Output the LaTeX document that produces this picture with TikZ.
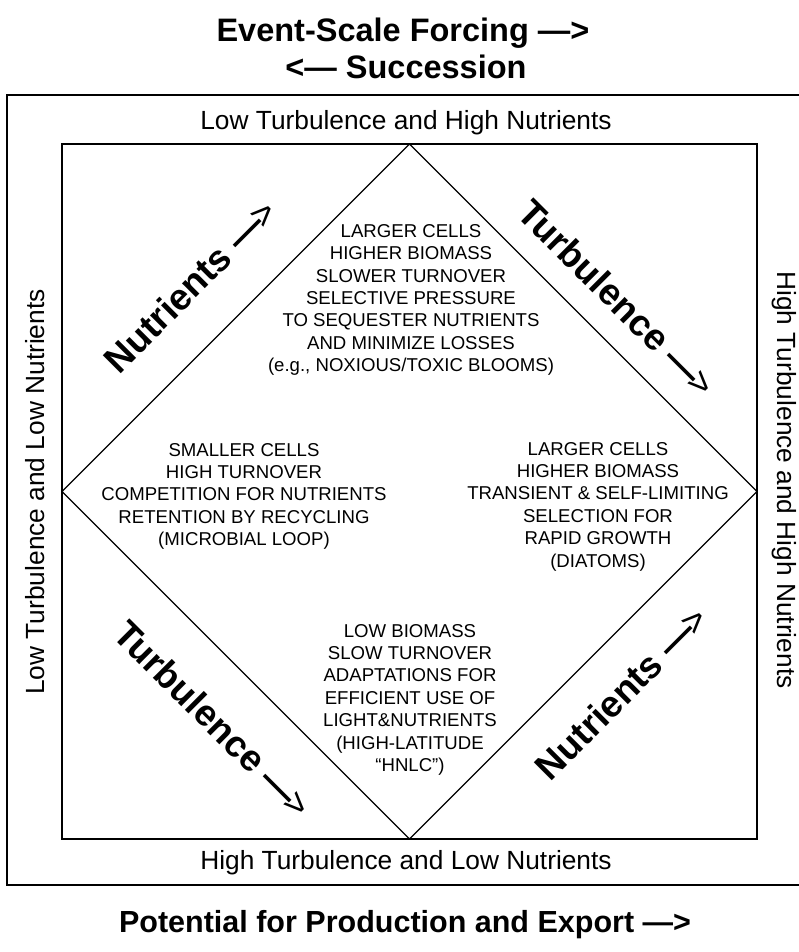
\documentclass[tikz,border=0pt]{standalone}
\usepackage{fontspec}
\setmainfont{Liberation Sans}
\newcommand{\bigarrow}{{\bfseries —}\kern-0.14em{\mdseries >}}
\begin{document}
\begin{tikzpicture}[x=1pt,y=-1pt,
  title/.style={font=\fontsize{32.5}{38}\selectfont\bfseries, inner sep=0, anchor=base},
  side/.style={font=\fontsize{26.3}{30}\selectfont, inner sep=0},
  quad/.style={font=\fontsize{18.6}{22.4}\selectfont, align=center, inner sep=0, anchor=north},
  big/.style={font=\fontsize{37}{44}\selectfont\bfseries, inner sep=0, anchor=center},
  frame/.style={line width=2.6pt},
  box/.style={line width=2.2pt},
  rhomb/.style={line width=1.2pt}
]
\useasboundingbox (0,0) rectangle (798,952);
\fill[white] (0,0) rectangle (798,952);
% titles
\node[title] (t1) at (403,42) {Event-Scale Forcing —>};
\node[title] (t2) at (406,79) {<— Succession};
\node[title, font=\fontsize{30.5}{36}\selectfont\bfseries] (t3) at (405,932) {Potential for Production and Export —>};
% frames
\draw[frame] (800,95) -- (7,95) -- (7,885) -- (800,885);
\draw[box] (62,144) rectangle (757,839);
\coordinate (dT) at (409.5,144);
\coordinate (dR) at (757,491.5);
\coordinate (dB) at (409.5,839);
\coordinate (dL) at (62,491.5);
\draw[rhomb] (dT) -- (dR) -- (dB) -- (dL) -- cycle;
% side labels
\node[side, anchor=base] (sT) at (406,129.3) {Low Turbulence and High Nutrients};
\node[side, anchor=base] (sB) at (406,869) {High Turbulence and Low Nutrients};
\node[side, rotate=90] (sL) at (35,492) {Low Turbulence and Low Nutrients};
\node[side, rotate=-90] (sR) at (784,480) {High Turbulence and High Nutrients};
% quadrant texts
\node[quad] (qT) at (411,224.2) {LARGER CELLS\\HIGHER BIOMASS\\SLOWER TURNOVER\\SELECTIVE PRESSURE\\TO SEQUESTER NUTRIENTS\\AND MINIMIZE LOSSES\\(e.g., NOXIOUS/TOXIC BLOOMS)};
\node[quad] (qL) at (244,443) {SMALLER CELLS\\HIGH TURNOVER\\COMPETITION FOR NUTRIENTS\\RETENTION BY RECYCLING\\(MICROBIAL LOOP)};
\node[quad] (qR) at (598,442) {LARGER CELLS\\HIGHER BIOMASS\\TRANSIENT \& SELF-LIMITING\\SELECTION FOR\\RAPID GROWTH\\(DIATOMS)};
\node[quad] (qB) at (410,624) {LOW BIOMASS\\SLOW TURNOVER\\ADAPTATIONS FOR\\EFFICIENT USE OF\\LIGHT\&NUTRIENTS\\(HIGH-LATITUDE\\“HNLC”)};
% big diagonal labels
\node[big, rotate=45] (nUL) at (190,286) {Nutrients \bigarrow};
\node[big, rotate=-45] (tUR) at (617,298) {Turbulence \bigarrow};
\node[big, rotate=-45] (tLL) at (213,719) {Turbulence \bigarrow};
\node[big, rotate=45] (nLR) at (621,693) {Nutrients \bigarrow};
\end{tikzpicture}
\end{document}
